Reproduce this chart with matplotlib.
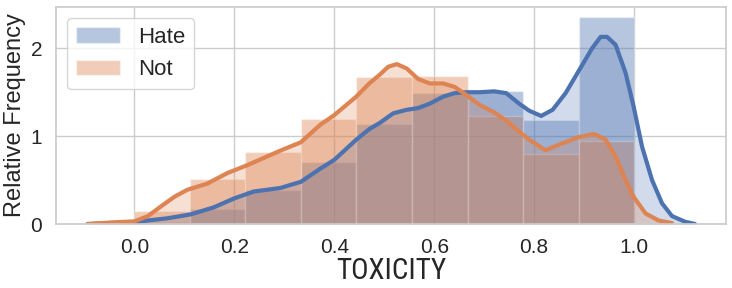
import numpy as np
import matplotlib
matplotlib.use("Agg")
import matplotlib.pyplot as plt
import seaborn as sns

sns.set_theme(style="whitegrid")
plt.rcParams['font.family'] = ['Liberation Sans', 'DejaVu Sans']
narrow = ['Roboto Condensed', 'Archivo Narrow', 'Liberation Sans', 'DejaVu Sans']

bin_edges = [0.0, 1/9, 2/9, 3/9, 4/9, 5/9, 6/9, 7/9, 8/9, 1.0]
hate_hist = [0.02, 0.17, 0.39, 0.71, 1.14, 1.49, 1.51, 1.18, 2.36]
not_hist = [0.15, 0.51, 0.815, 1.19, 1.67, 1.68, 1.23, 0.80, 0.95]

hate_kde_x = [-0.094, -0.04, 0.0, 0.027, 0.066, 0.113, 0.159, 0.199, 0.239, 0.266, 0.292,
              0.333, 0.372, 0.4, 0.444, 0.47, 0.491, 0.518, 0.545, 0.568, 0.591, 0.618,
              0.641, 0.664, 0.691, 0.720, 0.744, 0.770, 0.790, 0.814, 0.837, 0.863, 0.890,
              0.916, 0.933, 0.946, 0.963, 0.983, 0.999, 1.016, 1.036, 1.056, 1.076, 1.102,
              1.122]
hate_kde_y = [0.0, 0.01, 0.02, 0.04, 0.065, 0.11, 0.19, 0.29, 0.37, 0.39, 0.41,
              0.48, 0.63, 0.73, 0.96, 1.08, 1.15, 1.26, 1.30, 1.32, 1.37, 1.45,
              1.49, 1.50, 1.50, 1.51, 1.49, 1.37, 1.29, 1.23, 1.30, 1.49, 1.75,
              2.00, 2.13, 2.13, 2.04, 1.72, 1.34, 0.88, 0.50, 0.235, 0.09, 0.026,
              0.0]

not_kde_x = [-0.094, -0.04, 0.0, 0.027, 0.053, 0.080, 0.106, 0.146, 0.186, 0.226, 0.266,
             0.292, 0.333, 0.372, 0.4, 0.444, 0.47, 0.491, 0.508, 0.525, 0.545, 0.568,
             0.591, 0.618, 0.641, 0.664, 0.691, 0.717, 0.744, 0.770, 0.790, 0.823, 0.857,
             0.890, 0.920, 0.943, 0.963, 0.983, 0.999, 1.023, 1.049, 1.076]
not_kde_y = [0.0, 0.02, 0.03, 0.09, 0.20, 0.31, 0.39, 0.46, 0.58, 0.67, 0.77,
             0.835, 0.93, 1.13, 1.24, 1.45, 1.60, 1.70, 1.79, 1.82, 1.77, 1.65,
             1.60, 1.60, 1.56, 1.47, 1.355, 1.28, 1.18, 1.05, 0.96, 0.84, 0.92,
             0.99, 1.025, 0.96, 0.77, 0.50, 0.31, 0.12, 0.04, 0.01]

blue = sns.color_palette()[0]
orange = sns.color_palette()[1]

fig = plt.figure(figsize=(7.32, 2.88), dpi=100)
ax = fig.add_axes([56/732, 1 - 224/288, (726-56)/732, (224-7)/288])

widths = np.diff(bin_edges)
ax.bar(bin_edges[:-1], hate_hist, width=widths, align='edge', color=blue, alpha=0.4,
       edgecolor='white', linewidth=1, label='Hate')
ax.bar(bin_edges[:-1], not_hist, width=widths, align='edge', color=orange, alpha=0.4,
       edgecolor='white', linewidth=1, label='Not')

ax.fill_between(hate_kde_x, hate_kde_y, color=blue, alpha=0.25, linewidth=0)
ax.fill_between(not_kde_x, not_kde_y, color=orange, alpha=0.25, linewidth=0)
ax.plot(hate_kde_x, hate_kde_y, color=blue, lw=3, solid_joinstyle='round')
ax.plot(not_kde_x, not_kde_y, color=orange, lw=3, solid_joinstyle='round')

ax.set_xlim(-0.157, 1.184)
ax.set_ylim(0, 2.47)
ax.set_xticks([0.0, 0.2, 0.4, 0.6, 0.8, 1.0])
ax.set_yticks([0, 1, 2])
ax.tick_params(labelsize=15, pad=4)
ax.set_xlabel('TOXICITY', fontsize=21, labelpad=0, family=narrow)
ax.set_ylabel('Relative Frequency', fontsize=17, labelpad=3)
ax.legend(loc='upper left', fontsize=16, frameon=True)

fig.savefig('out.png', dpi=100)
